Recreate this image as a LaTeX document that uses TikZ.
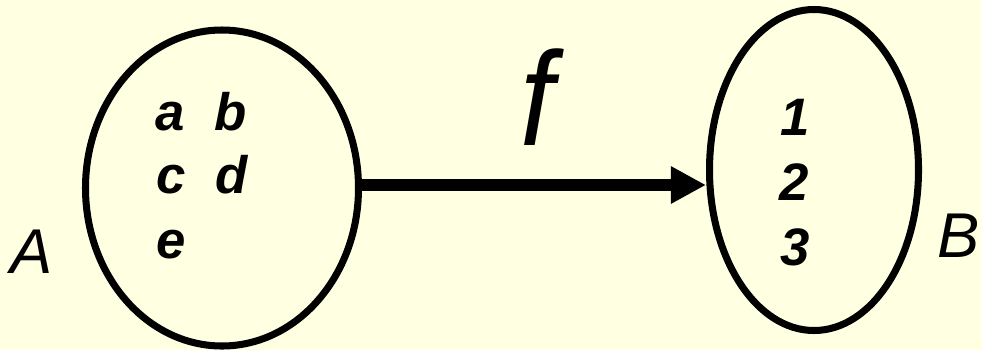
\documentclass[tikz,border=0pt]{standalone}
\definecolor{paleyellow}{RGB}{255, 255, 225}
\usepackage{fontspec}
\setmainfont{Liberation Sans}
\usepackage{tikz}
\usetikzlibrary{shapes, arrows.meta, positioning, calc}

\begin{document}
\begin{tikzpicture}[
  setshape/.style={draw, ellipse, line width=4pt, inner sep=0pt},
  elem/.style={anchor=base, font=\fontsize{30}{36}\selectfont\bfseries\itshape},
  setname/.style={anchor=base, font=\fontsize{36}{42}\selectfont\itshape}
]
  \fill[paleyellow] (0, 0) rectangle (19.64, 7.0);
  \useasboundingbox (0, 0) rectangle (19.64, 7.0);

  \node[setshape, minimum width=5.46cm, minimum height=6.32cm] (setA) at (4.44, 3.24) {};
  \node[setshape, minimum width=4.18cm, minimum height=6.42cm] (setB) at (16.28, 3.60) {};

  \node[elem] (ea) at (3.40, 4.40) {a};
  \node[elem] (eb) at (4.62, 4.40) {b};
  \node[elem] (ec) at (3.42, 3.14) {c};
  \node[elem] (ed) at (4.64, 3.14) {d};
  \node[elem] (ee) at (3.42, 1.84) {e};

  \node[elem] (n1) at (15.90, 4.30) {1};
  \node[elem] (n2) at (15.88, 3.00) {2};
  \node[elem] (n3) at (15.90, 1.70) {3};

  \node[setname] (nameA) at (0.64, 1.54) {A};
  \node[setname] (nameB) at (19.18, 1.86) {B};

  \draw[line width=6.8pt, -{Triangle[length=0.7cm, width=0.7cm]}]
    (setA.east |- 0, 3.30) coordinate (fstart) -- (setB.west |- fstart) coordinate (fend);
  \node[anchor=base, xscale=0.9, font=\fontsize{76}{86}\selectfont\itshape] (fname) at (10.74, 4.10) {f};
\end{tikzpicture}
\end{document}
